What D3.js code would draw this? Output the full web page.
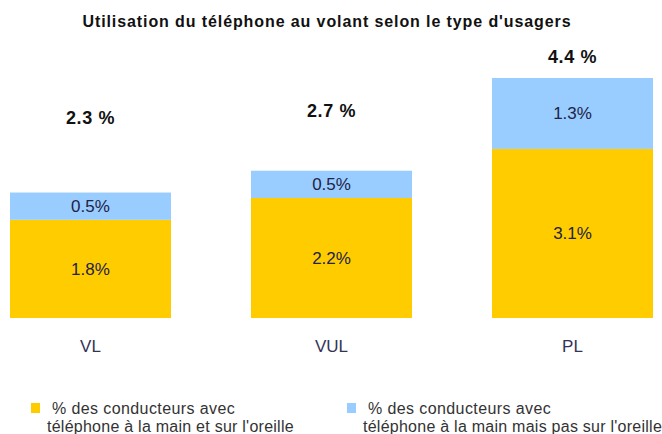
<!DOCTYPE html>
<html>
<head>
<meta charset="utf-8">
<script src="https://cdn.jsdelivr.net/npm/d3@7"></script>
<style>
  body { margin: 0; background: #fff; }
  svg { font-family: "Liberation Sans", Arial, sans-serif; }
</style>
</head>
<body>
<svg width="662" height="434"></svg>
<script>
var categories = ["VL", "VUL", "PL"];
var handAndEar = [1.8, 2.2, 3.1];      // téléphone à la main et sur l'oreille
var handNotEar = [0.5, 0.5, 1.3];      // téléphone à la main mais pas sur l'oreille
var totals = [2.3, 2.7, 4.4];
var seriesKeys = ["handEar", "handNoEar"];
var seriesColors = ["#ffcc00", "#99ccff"];
var legendLines = [
  ["% des conducteurs avec", "téléphone à la main et sur l'oreille"],
  ["% des conducteurs avec", "téléphone à la main mais pas sur l'oreille"]
];

var svg = d3.select("svg");

var rows = categories.map(function(c, i) {
  return { cat: c, handEar: handAndEar[i], handNoEar: handNotEar[i], total: totals[i] };
});

var xScale = d3.scaleBand()
  .domain(categories)
  .range([10, 653])
  .paddingInner(0.332)
  .paddingOuter(0);

var yScale = d3.scaleLinear()
  .domain([0, d3.max(totals)])
  .range([318, 78]);

var color = d3.scaleOrdinal().domain(seriesKeys).range(seriesColors);

var stacked = d3.stack().keys(seriesKeys)(rows);

// title
svg.append("text")
  .attr("x", 327)
  .attr("y", 27)
  .attr("text-anchor", "middle")
  .attr("font-size", 16)
  .attr("font-weight", "bold")
  .attr("letter-spacing", 0.9)
  .attr("fill", "#111")
  .text("Utilisation du téléphone au volant selon le type d'usagers");

// bars
var layers = svg.selectAll("g.layer")
  .data(stacked)
  .enter().append("g")
  .attr("class", "layer")
  .attr("fill", function(d) { return color(d.key); });

layers.selectAll("rect")
  .data(function(d) { return d; })
  .enter().append("rect")
  .attr("x", function(d) { return xScale(d.data.cat); })
  .attr("y", function(d) { return yScale(d[1]); })
  .attr("width", xScale.bandwidth())
  .attr("height", function(d) { return yScale(d[0]) - yScale(d[1]); });

// values inside segments
layers.selectAll("text")
  .data(function(d) { return d; })
  .enter().append("text")
  .attr("x", function(d) { return xScale(d.data.cat) + xScale.bandwidth() / 2; })
  .attr("y", function(d) { return (yScale(d[0]) + yScale(d[1])) / 2; })
  .attr("dy", "0.35em")
  .attr("text-anchor", "middle")
  .attr("font-size", 17)
  .attr("fill", "#222244")
  .text(function(d) { return (d[1] - d[0]).toFixed(1) + "%"; });

// totals (placed freely above bars like in the original)
var totalOffset = { VL: 69, VUL: 54, PL: 15 };
svg.selectAll("text.total")
  .data(rows)
  .enter().append("text")
  .attr("class", "total")
  .attr("x", function(d) { return xScale(d.cat) + xScale.bandwidth() / 2; })
  .attr("y", function(d) { return yScale(d.total) - totalOffset[d.cat]; })
  .attr("text-anchor", "middle")
  .attr("font-size", 18)
  .attr("font-weight", "bold")
  .attr("letter-spacing", 0.6)
  .attr("fill", "#111")
  .text(function(d) { return d.total.toFixed(1) + " %"; });

// category axis
var xAxis = d3.axisBottom(xScale).tickSize(0).tickPadding(0);
var axisG = svg.append("g")
  .attr("transform", "translate(0,340)")
  .call(xAxis);
axisG.select(".domain").remove();
axisG.selectAll("text")
  .attr("font-size", 17)
  .attr("font-family", "Liberation Sans, Arial, sans-serif")
  .attr("fill", "#333355");

// legend
var legendX = [31, 347];
var legend = svg.selectAll("g.legend")
  .data(seriesKeys)
  .enter().append("g")
  .attr("class", "legend")
  .attr("transform", function(d, i) { return "translate(" + legendX[i] + ",403)"; });

legend.append("rect")
  .attr("width", 9)
  .attr("height", 10)
  .attr("fill", function(d) { return color(d); });

legend.append("text")
  .attr("x", 21)
  .attr("y", 11)
  .attr("font-size", 16)
  .attr("letter-spacing", 0.4)
  .attr("fill", "#333")
  .text(function(d, i) { return legendLines[i][0]; });

legend.append("text")
  .attr("x", 16)
  .attr("y", 29)
  .attr("font-size", 16)
  .attr("letter-spacing", 0.25)
  .attr("fill", "#333")
  .text(function(d, i) { return legendLines[i][1]; });
</script>
</body>
</html>
